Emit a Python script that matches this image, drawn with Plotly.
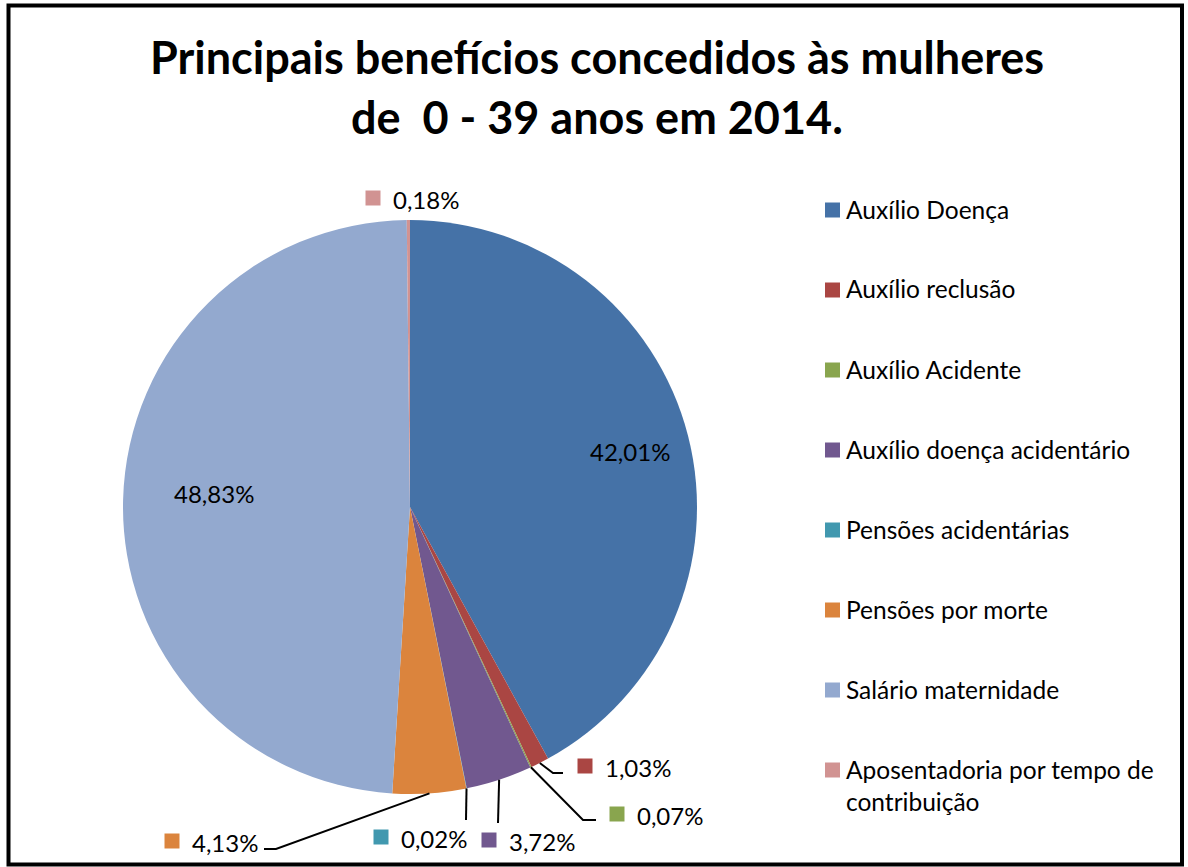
import math
import plotly.graph_objects as go

W, H = 1188, 867

categories = [
    "Auxílio Doença",
    "Auxílio reclusão",
    "Auxílio Acidente",
    "Auxílio doença acidentário",
    "Pensões acidentárias",
    "Pensões por morte",
    "Salário maternidade",
    "Aposentadoria por tempo de<br>contribuição",
]
values = [42.01, 1.03, 0.07, 3.72, 0.02, 4.13, 48.83, 0.18]
value_labels = ["42,01%", "1,03%", "0,07%", "3,72%", "0,02%", "4,13%", "48,83%", "0,18%"]
colors = ["#4572A7", "#AA4643", "#89A54E", "#71588F", "#4198AF", "#DB843D", "#93A9CF", "#D19392"]

FONT = "Lato"
LABEL_SIZE = 24
LEGEND_SIZE = 24.5

# pie geometry (pixels)
CX, CY, R = 410, 507, 287

# label layout (pixel anchor of marker / text centre); style only
label_style = [
    dict(kind="in", pos=(630, 452)),
    dict(kind="out", pos=(585, 767), elbow=[(553, 773), (563, 773)]),
    dict(kind="out", pos=(617, 815), elbow=[(583, 820), (596, 820)]),
    dict(kind="out", pos=(489, 841), elbow=[(498, 823)]),
    dict(kind="out", pos=(381, 838), elbow=[(466, 820)]),
    dict(kind="out", pos=(172, 842), elbow=[(276, 849), (264, 849)]),
    dict(kind="in", pos=(214, 493)),
    dict(kind="out", pos=(373, 199), elbow=None),
]


def px(x):
    return x / W


def py(y):
    return 1 - y / H


fig = go.Figure()
fig.add_trace(go.Pie(
    labels=categories,
    values=values,
    sort=False,
    direction="clockwise",
    rotation=0,
    marker=dict(colors=colors, line=dict(width=0)),
    textinfo="none",
    hoverinfo="label+percent",
    showlegend=False,
    domain=dict(x=[px(CX - R), px(CX + R)], y=[py(CY + R), py(CY - R)]),
))

shapes = []
annotations = []

total = sum(values)
cum = 0.0
for i, v in enumerate(values):
    mid = (cum + v / 2) / total * 2 * math.pi
    cum += v
    st = label_style[i]
    lx, ly = st["pos"]
    if st["kind"] == "in":
        annotations.append(dict(x=px(lx), y=py(ly), xref="paper", yref="paper",
                                text=value_labels[i], showarrow=False,
                                font=dict(family=FONT, size=LABEL_SIZE, color="#000000"),
                                xanchor="center", yanchor="middle"))
        continue
    s = 15
    shapes.append(dict(type="rect", xref="paper", yref="paper",
                       x0=px(lx - s / 2), x1=px(lx + s / 2),
                       y0=py(ly - 1 - s / 2), y1=py(ly - 1 + s / 2),
                       fillcolor=colors[i], line=dict(width=0)))
    annotations.append(dict(x=px(lx + 18), y=py(ly), xref="paper", yref="paper",
                            text=value_labels[i], showarrow=False,
                            font=dict(family=FONT, size=LABEL_SIZE, color="#000000"),
                            xanchor="left", yanchor="middle"))
    if st["elbow"]:
        sx = CX + R * math.sin(mid)
        sy = CY - R * math.cos(mid)
        pts = [(sx, sy)] + st["elbow"]
        path = "M " + " L ".join(f"{px(a)},{py(b)}" for a, b in pts)
        shapes.append(dict(type="path", xref="paper", yref="paper", path=path,
                           line=dict(color="#000000", width=2)))

# custom legend
leg_x = 825
leg_y0 = 210
leg_dy = 80
for i, cat in enumerate(categories):
    y = leg_y0 + i * leg_dy
    shapes.append(dict(type="rect", xref="paper", yref="paper",
                       x0=px(leg_x), x1=px(leg_x + 15),
                       y0=py(y + 7.5), y1=py(y - 7.5),
                       fillcolor=colors[i], line=dict(width=0)))
    lines = cat.split("<br>")
    for j, t in enumerate(lines):
        annotations.append(dict(x=px(leg_x + 19), y=py(y - 1 + j * 32), xref="paper", yref="paper",
                                text=t, showarrow=False,
                                font=dict(family=FONT, size=LEGEND_SIZE, color="#000000"),
                                xanchor="left", yanchor="middle"))

# title
title_lines = ["Principais benefícios concedidos às mulheres", "de\u00a0\u00a00 - 39 anos em 2014."]
for j, t in enumerate(title_lines):
    annotations.append(dict(x=px(597), y=py(57 + j * 60), xref="paper", yref="paper",
                            text=f"<b>{t}</b>", showarrow=False,
                            font=dict(family=FONT, size=45, color="#000000"),
                            xanchor="center", yanchor="middle"))

# outer border
shapes.append(dict(type="rect", xref="paper", yref="paper",
                   x0=px(8.5), x1=px(1182), y0=py(864.5), y1=py(5.5),
                   line=dict(color="#000000", width=4), fillcolor="rgba(0,0,0,0)"))

fig.update_layout(
    width=W, height=H,
    margin=dict(l=0, r=0, t=0, b=0),
    paper_bgcolor="#FFFFFF",
    plot_bgcolor="#FFFFFF",
    shapes=shapes,
    annotations=annotations,
    showlegend=False,
)

fig.write_html("out.html", config={"displayModeBar": False},
               post_script="document.body.style.margin='0px';document.body.style.overflow='hidden';")
